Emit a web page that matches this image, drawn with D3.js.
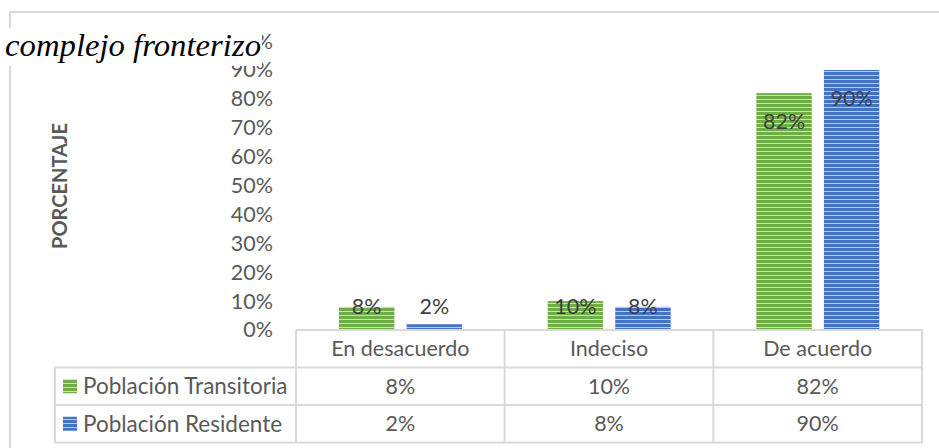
<!DOCTYPE html>
<html>
<head>
<meta charset="utf-8">
<script src="https://cdn.jsdelivr.net/npm/d3@7"></script>
<style>
  body { margin: 0; background: #fff; }
  svg { display: block; }
  .title { font-family: "Liberation Serif", "Times New Roman", Times, "DejaVu Serif", serif; font-style: italic; }
</style>
</head>
<body>
<script>
// data
var categories = ['En desacuerdo', 'Indeciso', 'De acuerdo'];
var seriesNames = ['Población Transitoria', 'Población Residente'];
var transitoria = [8, 10, 82];
var residente = [2, 8, 90];
var yTicks = [0, 10, 20, 30, 40, 50, 60, 70, 80, 90, 100];

var width = 939, height = 448,
    plotLeft = 296, plotRight = 922,
    y0 = 330, y90 = 70,
    rowH = 37.5,
    font = 'Lato, sans-serif',
    fs = 21.5,
    gray = '#595959',
    border = '#d9d9d9';

var colors = ['#70ad47', '#4472c4'],
    lights = ['#c9e2b8', '#b9cbea'];

var svg = d3.select('body').append('svg')
  .attr('width', width)
  .attr('height', height);

// striped fills
var defs = svg.append('defs');
colors.forEach(function(c, i){
  var p = defs.append('pattern')
    .attr('id', 'stripe' + i)
    .attr('patternUnits', 'userSpaceOnUse')
    .attr('width', 8).attr('height', 4);
  p.append('rect').attr('width', 8).attr('height', 4).attr('fill', c);
  p.append('rect').attr('y', 3).attr('width', 8).attr('height', 1).attr('fill', lights[i]);
});

var xScale = d3.scaleBand().domain(categories).range([plotLeft, plotRight]);
var xInner = d3.scaleBand().domain([0, 1]).range([43, 166]).paddingInner(0.18);
var yScale = d3.scaleLinear().domain([0, 90]).range([y0, y90]);

// chart frame
svg.append('path')
  .attr('d', 'M10,448 V12 H939')
  .attr('fill', 'none')
  .attr('stroke', border)
  .attr('stroke-width', 2);

// y axis labels
var yAxis = d3.axisLeft(yScale).tickValues(yTicks).tickSize(0).tickPadding(0)
  .tickFormat(function(d){ return d + '%'; });
var gy = svg.append('g').attr('transform', 'translate(273,0)').call(yAxis);
gy.select('.domain').remove();
gy.selectAll('text')
  .attr('font-family', font)
  .attr('font-size', fs)
  .attr('fill', gray);

// axis title
svg.append('text')
  .attr('transform', 'translate(67,186) rotate(-90)')
  .attr('text-anchor', 'middle')
  .attr('font-family', font)
  .attr('font-size', 20)
  .attr('font-weight', 'bold')
  .attr('fill', gray)
  .text('PORCENTAJE');

// bars
var series = [transitoria, residente];
var groups = svg.append('g');
series.forEach(function(vals, s){
  var g = groups.selectAll('.s' + s).data(vals).enter();
  g.append('rect')
    .attr('x', function(d, i){ return xScale(categories[i]) + xInner(s); })
    .attr('y', function(d){ return yScale(d); })
    .attr('width', xInner.bandwidth())
    .attr('height', function(d){ return y0 - yScale(d); })
    .attr('fill', 'url(#stripe' + s + ')');
  g.append('text')
    .attr('x', function(d, i){ return xScale(categories[i]) + xInner(s) + xInner.bandwidth() / 2; })
    .attr('y', function(d){ return Math.min(yScale(d) + 28, y0 - 24); })
    .attr('dy', '0.35em')
    .attr('text-anchor', 'middle')
    .attr('font-family', font)
    .attr('font-size', fs)
    .attr('fill', '#404040')
    .text(function(d){ return d + '%'; });
});

// data table
var table = svg.append('g')
  .attr('fill', 'none')
  .attr('stroke', border)
  .attr('stroke-width', 2);
table.append('path')
  .attr('d', 'M' + plotLeft + ',' + y0 + 'H' + plotRight + 'V' + (y0 + 3 * rowH) + 'H55V' + (y0 + rowH) + 'H' + plotRight);
table.append('path')
  .attr('d', 'M55,' + (y0 + 2 * rowH) + 'H' + plotRight);
xScale.range().concat(categories.map(function(c){ return xScale(c); })).forEach(function(x){
  table.append('path').attr('d', 'M' + x + ',' + y0 + 'V' + (y0 + 3 * rowH));
});

svg.selectAll('.cat').data(categories).enter().append('text')
  .attr('x', function(d){ return xScale(d) + xScale.bandwidth() / 2; })
  .attr('y', y0 + rowH / 2)
  .attr('dy', '0.35em')
  .attr('text-anchor', 'middle')
  .attr('font-family', font)
  .attr('font-size', fs)
  .attr('fill', gray)
  .text(function(d){ return d; });

series.forEach(function(vals, s){
  var ry = y0 + rowH * (s + 1.5);
  svg.append('rect')
    .attr('x', 63).attr('y', ry - 7)
    .attr('width', 14).attr('height', 14)
    .attr('fill', 'url(#stripe' + s + ')');
  svg.append('text')
    .attr('x', 83).attr('y', ry)
    .attr('dy', '0.35em')
    .attr('font-family', font)
    .attr('font-size', 22.5)
    .attr('fill', gray)
    .text(seriesNames[s]);
  svg.selectAll('.v' + s).data(vals).enter().append('text')
    .attr('x', function(d, i){ return xScale(categories[i]) + xScale.bandwidth() / 2; })
    .attr('y', ry)
    .attr('dy', '0.35em')
    .attr('text-anchor', 'middle')
    .attr('font-family', font)
    .attr('font-size', fs)
    .attr('fill', gray)
    .text(function(d){ return d + '%'; });
});

// title covers the top tick label, as in the source
svg.append('rect')
  .attr('x', 0).attr('y', 28)
  .attr('width', 262).attr('height', 38)
  .attr('fill', '#fff');
svg.append('text')
  .attr('class', 'title')
  .attr('x', 5).attr('y', 56)
  .attr('font-size', 31)
  .attr('textLength', 256)
  .attr('lengthAdjust', 'spacingAndGlyphs')
  .attr('fill', '#000')
  .text('complejo fronterizo');
</script>
</body>
</html>
